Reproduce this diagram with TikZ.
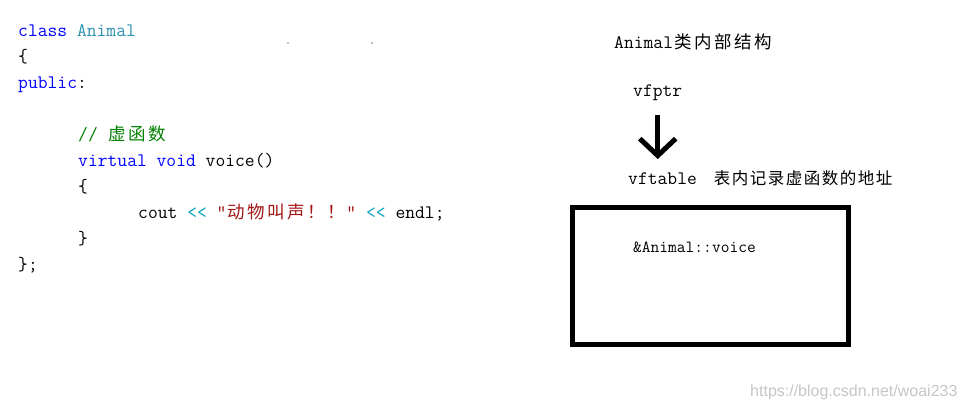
\documentclass[tikz,border=0pt]{standalone}
\usepackage{fontspec}
\newfontfamily\cjk{Noto Sans CJK SC}
\newfontfamily\wmfont{Liberation Sans}
\usetikzlibrary{arrows.meta}
\definecolor{kw}{RGB}{0,0,255}
\definecolor{ty}{RGB}{43,145,175}
\definecolor{cm}{RGB}{0,128,0}
\definecolor{st}{RGB}{163,21,21}
\definecolor{op}{RGB}{0,160,190}
\newcommand\cc[1]{\makebox[20pt][c]{\cjk\fontsize{17.5}{17.5}\selectfont #1}}
\newcommand\cs[1]{\makebox[18pt][c]{\cjk\fontsize{16.5}{16.5}\selectfont #1}}
\tikzset{
  code/.style={anchor=base west, inner sep=0pt, font=\ttfamily\fontsize{19.05}{22}\selectfont},
  small/.style={anchor=base west, inner sep=0pt, font=\ttfamily\fontsize{17}{20}\selectfont},
  tablebox/.style={draw, line width=5pt, minimum width=276pt, minimum height=137pt, inner sep=0pt},
  bigarrow/.style={line width=5pt, -{Straight Barb[length=17pt,width=36pt]}},
}
\begin{document}
\begin{tikzpicture}[x=1pt,y=1pt]
\useasboundingbox (0,0) rectangle (966,-411);
\fill[white] (0,0) rectangle (966,-411);
% code
\node[code] (l1) at (18,-37) {\textcolor{kw}{class} \textcolor{ty}{Animal}};
\node[code] (l2) at (18,-63) {\{};
\node[code] (l3) at (18,-89) {\textcolor{kw}{public}:};
\node[code] (l5) at (78,-141) {\textcolor{cm}{// \cc{虚}\cc{函}\cc{数}}};
\node[code] (l6) at (78,-167) {\textcolor{kw}{virtual} \textcolor{kw}{void} voice()};
\node[code] (l7) at (78,-193) {\{};
\node[code] (l8) at (138,-219) {cout \textcolor{op}{<<} \textcolor{st}{"\cc{动}\cc{物}\cc{叫}\cc{声}\cc{！}\cc{！}"} \textcolor{op}{<<} endl;};
\node[code] (l9) at (78,-245) {\}};
\node[code] (l10) at (18,-271) {\};};
\fill[gray] (288,-43) circle (0.9);
\fill[gray] (372,-43) circle (0.9);
% right side
\node[code] (title) at (614,-49) {Animal\cc{类}\cc{内}\cc{部}\cc{结}\cc{构}};
\node[code] (vfptr) at (633,-97) {vfptr};
\node[code] (vftable) at (628,-185) {vftable};
\node[code] (desc) at (713,-185) {\cs{表}\cs{内}\cs{记}\cs{录}\cs{虚}\cs{函}\cs{数}\cs{的}\cs{地}\cs{址}};
\draw[bigarrow] ([yshift=-14pt]vfptr.south) -- ([yshift=14pt]vfptr.south |- vftable.north);
\node[tablebox] (vt) at (710.5,-276) {};
\node[small] (entry) at (633,-253) {\&Animal::voice};
\node[anchor=base west, inner sep=0pt, text=gray!45, font=\wmfont\fontsize{16}{18}\selectfont] (wm) at (750,-396) {https://blog.csdn.net/woai233};
\end{tikzpicture}
\end{document}
